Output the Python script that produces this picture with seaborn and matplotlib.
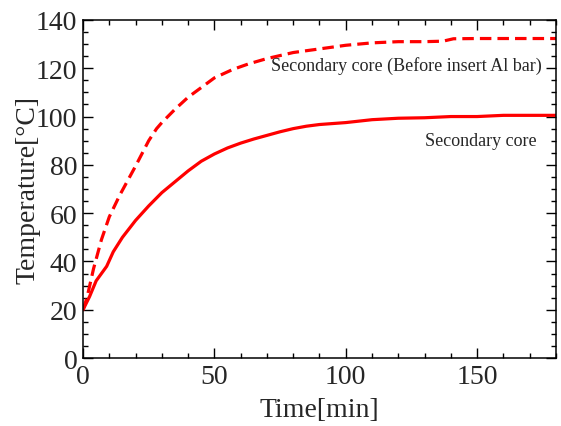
import numpy as np
import pandas as pd
import matplotlib
matplotlib.use("Agg")
import matplotlib.pyplot as plt
import seaborn as sns
from matplotlib.ticker import MultipleLocator

# Secondary core (solid)
time_core = [0, 2.5, 5, 9, 11.5, 15, 20, 25, 30, 35, 40, 45, 50, 55, 60, 65,
             70, 75, 80, 85, 90, 100, 110, 120, 130, 140, 150, 160, 170, 180]
temp_core = [20, 25.5, 32, 38, 44, 50, 57, 63, 68.5, 73, 77.5, 81.5, 84.5, 87,
             89, 90.7, 92.2, 93.7, 95, 96, 96.7, 97.5, 98.7, 99.3, 99.5, 100,
             100, 100.5, 100.5, 100.5]

# Secondary core before inserting Al bar (dashed)
time_before = [0, 1.5, 4, 7, 10, 14, 17, 20, 25, 28, 30, 35, 40, 45, 50, 57,
               63, 70, 80, 90, 100, 110, 120, 130, 137, 141, 150, 160, 170, 180]
temp_before = [20, 25, 37, 49, 58.5, 67.5, 73.5, 79.5, 90, 95, 97.5, 103, 108,
               112, 116, 119.5, 121.8, 124, 126.5, 128, 129.5, 130.5, 131, 131,
               131.2, 132.2, 132.3, 132.3, 132.3, 132.3]

sns.set_style("ticks")
plt.rcParams['font.family'] = ['Liberation Serif', 'DejaVu Serif']

fig = plt.figure(figsize=(5.61, 4.27), dpi=100)
ax = fig.add_axes([0.148, 0.159, 0.843, 0.792])

df_core = pd.DataFrame({'Time': time_core, 'Temp': temp_core})
df_before = pd.DataFrame({'Time': time_before, 'Temp': temp_before})

sns.lineplot(data=df_before, x='Time', y='Temp', ax=ax, color='#ff0000',
             linewidth=2.3, estimator=None)
ax.lines[-1].set_dashes((3.6, 1.9))
sns.lineplot(data=df_core, x='Time', y='Temp', ax=ax, color='#ff0000',
             linewidth=2.3, estimator=None)

ax.set_xlim(0, 180)
ax.set_ylim(0, 140)
ax.xaxis.set_major_locator(MultipleLocator(50))
ax.xaxis.set_minor_locator(MultipleLocator(10))
ax.yaxis.set_major_locator(MultipleLocator(20))
ax.yaxis.set_minor_locator(MultipleLocator(5))
ax.tick_params(which='both', direction='in', top=True, right=True,
               width=1.0, color='black', labelsize=20, pad=4)
ax.tick_params(which='major', length=7)
ax.tick_params(which='minor', length=3.6)
for s in ax.spines.values():
    s.set_linewidth(1.1)
    s.set_color('black')

ax.set_xlabel('Time[min]', fontsize=20, labelpad=6)
ax.set_ylabel('Temperature[°C]', fontsize=20, labelpad=-3)

ax.text(174.5, 121.3, 'Secondary core (Before insert Al bar)', fontsize=13,
        ha='right', va='center')
ax.text(172.5, 90, 'Secondary core', fontsize=13, ha='right', va='center')

fig.savefig('out.png', dpi=100)
